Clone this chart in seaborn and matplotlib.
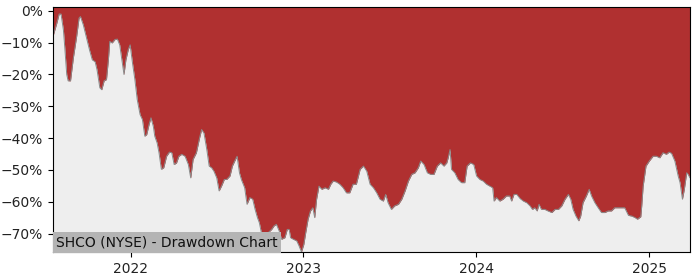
import matplotlib
matplotlib.use("Agg")
import matplotlib.pyplot as plt
import matplotlib.dates as mdates
from matplotlib.ticker import FuncFormatter
import seaborn as sns
import pandas as pd

dates = [
    "2021-07-21", "2021-07-29", "2021-08-03", "2021-08-07", "2021-08-12", "2021-08-15", "2021-08-19",
    "2021-08-22", "2021-08-27", "2021-09-02", "2021-09-09", "2021-09-14", "2021-09-17", "2021-09-23",
    "2021-09-30", "2021-10-06", "2021-10-12", "2021-10-18", "2021-10-22", "2021-10-28", "2021-11-01",
    "2021-11-06", "2021-11-11", "2021-11-15", "2021-11-18", "2021-11-23", "2021-11-29", "2021-12-04",
    "2021-12-09", "2021-12-15", "2021-12-18", "2021-12-22", "2021-12-27", "2021-12-31", "2022-01-05",
    "2022-01-10", "2022-01-15", "2022-01-21", "2022-01-26", "2022-01-31", "2022-02-04", "2022-02-09",
    "2022-02-13", "2022-02-18", "2022-02-21", "2022-02-26", "2022-03-02", "2022-03-07", "2022-03-12",
    "2022-03-18", "2022-03-24", "2022-03-29", "2022-04-03", "2022-04-08", "2022-04-13", "2022-04-19",
    "2022-04-26", "2022-05-03", "2022-05-08", "2022-05-13", "2022-05-20", "2022-05-26", "2022-05-31",
    "2022-06-05", "2022-06-11", "2022-06-16", "2022-06-21", "2022-06-26", "2022-07-02", "2022-07-07",
    "2022-07-12", "2022-07-18", "2022-07-23", "2022-07-30", "2022-08-04", "2022-08-09", "2022-08-14",
    "2022-08-19", "2022-08-23", "2022-08-30", "2022-09-04", "2022-09-10", "2022-09-16", "2022-09-21",
    "2022-09-26", "2022-09-30", "2022-10-05", "2022-10-12", "2022-10-19", "2022-10-26", "2022-10-31",
    "2022-11-05", "2022-11-11", "2022-11-16", "2022-11-23", "2022-11-28", "2022-12-02", "2022-12-05",
    "2022-12-11", "2022-12-18", "2022-12-23", "2022-12-28", "2023-01-02", "2023-01-06", "2023-01-11",
    "2023-01-16", "2023-01-21", "2023-01-25", "2023-01-29", "2023-02-03", "2023-02-09", "2023-02-16",
    "2023-02-23", "2023-02-28", "2023-03-05", "2023-03-12", "2023-03-19", "2023-03-26", "2023-04-02",
    "2023-04-09", "2023-04-16", "2023-04-23", "2023-05-01", "2023-05-08", "2023-05-15", "2023-05-22",
    "2023-05-29", "2023-06-05", "2023-06-12", "2023-06-19", "2023-06-24", "2023-06-29", "2023-07-06",
    "2023-07-13", "2023-07-21", "2023-07-28", "2023-08-04", "2023-08-11", "2023-08-18", "2023-08-25",
    "2023-09-01", "2023-09-06", "2023-09-13", "2023-09-20", "2023-09-27", "2023-10-04", "2023-10-11",
    "2023-10-18", "2023-10-25", "2023-10-31", "2023-11-03", "2023-11-07", "2023-11-10", "2023-11-17",
    "2023-11-24", "2023-12-01", "2023-12-08", "2023-12-13", "2023-12-20", "2023-12-27", "2024-01-02",
    "2024-01-09", "2024-01-16", "2024-01-23", "2024-01-30", "2024-02-05", "2024-02-08", "2024-02-13",
    "2024-02-20", "2024-02-27", "2024-03-05", "2024-03-12", "2024-03-16", "2024-03-21", "2024-03-27",
    "2024-04-03", "2024-04-10", "2024-04-17", "2024-04-24", "2024-04-29", "2024-05-04", "2024-05-09",
    "2024-05-13", "2024-05-18", "2024-05-25", "2024-06-01", "2024-06-09", "2024-06-16", "2024-06-23",
    "2024-06-30", "2024-07-07", "2024-07-14", "2024-07-19", "2024-07-24", "2024-07-30", "2024-08-05",
    "2024-08-09", "2024-08-14", "2024-08-21", "2024-08-27", "2024-09-01", "2024-09-08", "2024-09-15",
    "2024-09-22", "2024-09-29", "2024-10-06", "2024-10-13", "2024-10-20", "2024-10-27", "2024-11-03",
    "2024-11-10", "2024-11-18", "2024-11-25", "2024-12-02", "2024-12-07", "2024-12-14", "2024-12-16",
    "2024-12-19", "2024-12-25", "2025-01-01", "2025-01-09", "2025-01-16", "2025-01-23", "2025-01-30",
    "2025-02-06", "2025-02-12", "2025-02-17", "2025-02-24", "2025-03-03", "2025-03-07", "2025-03-12",
    "2025-03-16", "2025-03-21", "2025-03-24", "2025-03-28",
]

drawdown_pct = [
    -8.0, -3.9, -1.0, -1.0, -6.0, -11.7, -20.0,
    -22.0, -22.0, -14.8, -8.0, -2.3, -1.8, -4.4,
    -8.6, -12.2, -15.4, -16.0, -18.5, -24.2, -24.8,
    -22.0, -21.6, -15.4, -9.6, -10.1, -9.0, -8.9,
    -10.7, -16.9, -20.0, -15.4, -12.2, -10.7, -16.4,
    -21.6, -27.9, -32.6, -34.2, -39.4, -38.9, -35.7,
    -33.6, -36.3, -39.4, -41.5, -44.6, -49.8, -49.3,
    -45.7, -44.4, -44.6, -48.3, -47.8, -45.7, -45.1,
    -45.7, -48.3, -52.5, -46.7, -44.6, -40.4, -37.3,
    -38.4, -43.6, -48.8, -49.3, -50.4, -52.5, -56.6,
    -55.1, -53.0, -53.0, -51.9, -48.8, -47.2, -45.7,
    -50.9, -53.0, -55.6, -60.8, -58.7, -59.2, -62.4,
    -65.0, -66.6, -70.2, -70.2, -69.7, -68.7, -67.6,
    -67.1, -69.2, -71.8, -71.3, -68.7, -68.7, -71.3,
    -71.8, -72.3, -73.9, -75.8, -73.4, -69.7, -65.5,
    -62.9, -61.9, -65.0, -59.2, -55.1, -56.1, -55.6,
    -56.1, -54.5, -53.5, -53.8, -54.5, -55.6, -57.2,
    -57.2, -54.5, -54.5, -49.8, -48.8, -50.4, -54.5,
    -55.6, -57.2, -59.2, -59.8, -57.7, -60.3, -62.4,
    -61.3, -60.8, -59.2, -56.6, -53.5, -51.4, -50.9,
    -49.3, -47.2, -48.3, -50.9, -51.4, -51.4, -48.8,
    -47.8, -48.8, -47.8, -46.2, -43.6, -49.8, -50.9,
    -53.0, -54.0, -54.0, -48.8, -47.8, -48.3, -51.9,
    -53.0, -53.5, -54.5, -55.1, -55.6, -59.8, -58.7,
    -59.8, -59.2, -58.2, -58.2, -59.8, -57.7, -57.7,
    -59.0, -59.8, -60.3, -61.3, -62.4, -61.9, -62.9,
    -60.8, -62.4, -62.4, -62.9, -63.4, -62.4, -62.4,
    -61.3, -59.2, -57.7, -59.2, -62.4, -64.5, -66.0,
    -64.5, -60.3, -58.2, -56.1, -58.2, -60.3, -61.9,
    -63.4, -63.4, -62.9, -62.9, -61.9, -61.9, -61.9,
    -61.9, -64.3, -64.5, -65.0, -65.5, -64.7, -61.3,
    -55.1, -48.8, -47.2, -45.7, -45.7, -46.2, -44.6,
    -45.1, -44.4, -44.8, -47.2, -51.9, -54.0, -59.2,
    -56.1, -50.9, -51.4, -52.5,
]

y_ticks = [0, -10, -20, -30, -40, -50, -60, -70]
x_tick_years = ["2022", "2023", "2024", "2025"]
title_text = "SHCO (NYSE) - Drawdown Chart"

df = pd.DataFrame({"date": pd.to_datetime(dates), "dd": drawdown_pct})

sns.set_style("white")
plt.rcParams["font.family"] = ["DejaVu Sans"]

RED = "#b03030"
GREY_BG = "#eeeeee"

fig = plt.figure(figsize=(7, 2.8), dpi=100)
ax = fig.add_axes([0.0757, 0.1, 0.91, 0.875])

ymin = min(drawdown_pct)
ymax = 1.2
ax.set_facecolor(GREY_BG)
ax.fill_between(df["date"], df["dd"], ymax, color=RED, linewidth=0)
sns.lineplot(data=df, x="date", y="dd", ax=ax, color="#8a8a8a", linewidth=0.7)

ax.set_xlim(df["date"].iloc[0], df["date"].iloc[-1])
ax.set_ylim(ymin, ymax)
ax.set_yticks(y_ticks)
ax.yaxis.set_major_formatter(FuncFormatter(lambda v, p: f"{int(round(v))}%".replace("-", "\u2212")))
ax.set_xticks(pd.to_datetime([y + "-01-01" for y in x_tick_years]))
ax.set_xticklabels(x_tick_years)
ax.set_xlabel("")
ax.set_ylabel("")
ax.tick_params(axis="both", which="both", length=3.5, width=0.8, labelsize=10,
               left=True, bottom=True, colors="black", labelcolor="#222222")
for s in ax.spines.values():
    s.set_visible(True)
    s.set_color("black")
    s.set_linewidth(0.8)

ax.text(0.005, 0.012, title_text, transform=ax.transAxes, fontsize=10, color="#111111",
        ha="left", va="bottom",
        bbox=dict(facecolor="#b4b4b4", edgecolor="none", pad=2.5))

fig.savefig("out.png", dpi=100)
